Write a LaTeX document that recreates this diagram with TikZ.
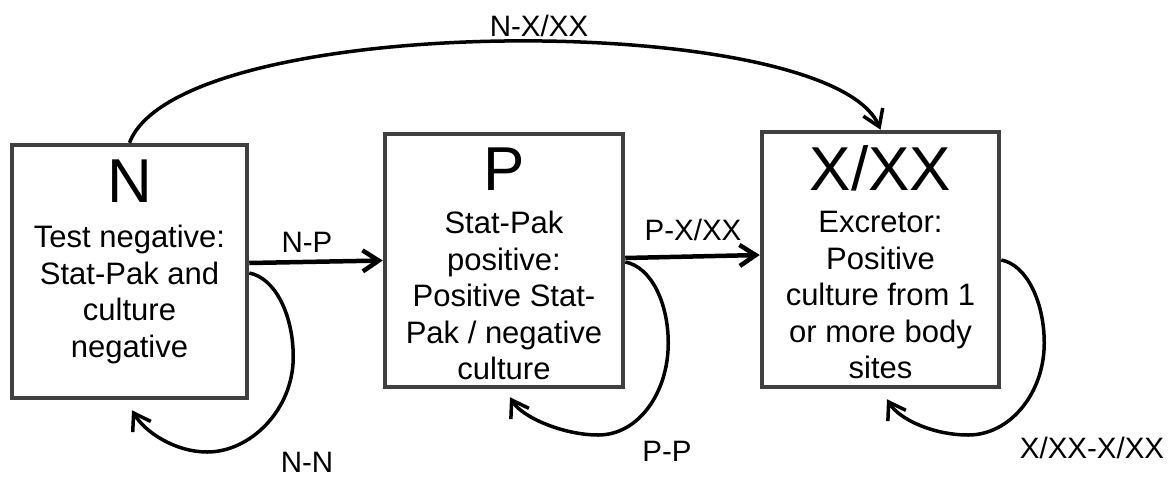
\documentclass[tikz,border=0pt]{standalone}
\usepackage{fontspec}
\setmainfont{Liberation Sans}
\usetikzlibrary{arrows.meta}
\definecolor{boxgray}{RGB}{64,64,64}

\begin{document}
\begin{tikzpicture}[x=1pt,y=-1pt,>={Straight Barb[length=16pt,width=21pt]},
    state/.style={draw=boxgray,line width=4.5pt,inner sep=0pt},
    title/.style={inner sep=0pt,font=\fontsize{62}{70}\selectfont},
    body/.style={inner sep=0pt,align=center,font=\fontsize{31}{36.5}\selectfont},
    lbl/.style={inner sep=0pt,font=\fontsize{29.5}{34}\selectfont},
    trans/.style={->,line width=4.5pt},
    loopy/.style={->,line width=3.5pt}]
                \useasboundingbox (0,0) rectangle (1175,477);

                \node[state,minimum width=235pt,minimum height=253pt] (N) at (129.5,271.5) {};
                \node[state,minimum width=238pt,minimum height=253pt] (P) at (504,260.5) {};
                \node[state,minimum width=237pt,minimum height=255pt] (X) at (880.5,259.5) {};

                \node[title,anchor=base] (Nt) at (129.5,202) {N};
                \node[title,anchor=base] (Pt) at (504,190) {P};
                \node[title,anchor=base] (Xt) at (880.5,190) {X/XX};

                \node[body,anchor=north] (Nb) at (129.5,225) {Test negative:\\Stat-Pak and\\culture\\negative};
                \node[body,anchor=north] (Pb) at (504,211) {Stat-Pak\\positive:\\Positive Stat-\\Pak / negative\\culture};
                \node[body,anchor=north] (Xb) at (880.5,211) {Excretor:\\Positive\\culture from 1\\or more body\\sites};

                \draw[trans] ([yshift=8.5pt]N.east) -- (P.west);
                \draw[trans] ([yshift=2.5pt]P.east) -- ([yshift=4.5pt]X.west);
                \draw[loopy] (N.north) .. controls (180,10) and (830,10) .. (X.north);

                \draw[loopy] ([yshift=-1.5pt]N.east) .. controls +(26,5) and +(0,-42) .. ++(44,84)
                    .. controls +(0,53) and +(43,0) .. ++(-86,95)
                    .. controls +(-32,0) and +(13,22) .. ([shift={(2.5,10)}]N.south);
                \draw[loopy] ([yshift=-1.5pt]P.east) .. controls +(26,5) and +(0,-40) .. ++(43,81)
                    .. controls +(0,50) and +(40,0) .. ++(-70,92)
                    .. controls +(-35,0) and +(12,20) .. ([shift={(6,8)}]P.south);
                \draw[loopy] ([yshift=-0.5pt]X.east) .. controls +(26,5) and +(0,-40) .. ++(43,83)
                    .. controls +(0,50) and +(42,0) .. ++(-76,92)
                    .. controls +(-35,0) and +(12,20) .. ([shift={(6.5,10)}]X.south);

                \node[lbl] (lNP) at (307,242) {N-P};
                \node[lbl] (lPX) at (693,230) {P-X/XX};
                \node[lbl] (lNX) at (539,26) {N-X/XX};
                \node[lbl] (lNN) at (307,462) {N-N};
                \node[lbl] (lPP) at (667,451) {P-P};
                \node[lbl] (lXX) at (1092,448) {X/XX-X/XX};
            \end{tikzpicture}
\end{document}
